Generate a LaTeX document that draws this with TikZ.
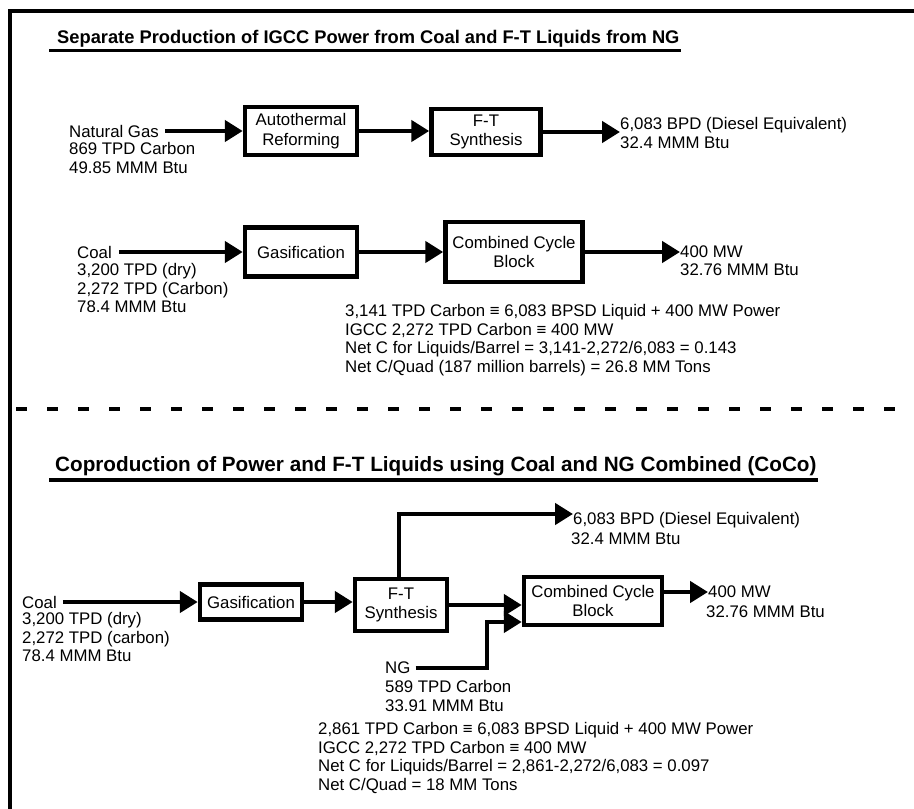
\documentclass[tikz,border=0pt]{standalone}
\usepackage{fontspec}
\setmainfont{Liberation Sans}
\usetikzlibrary{arrows.meta, positioning, calc}

\tikzset{
  blk/.style={draw, line width=4.5pt, align=center, inner sep=1pt,
    font=\fontsize{16.8}{19.5}\selectfont},
  flow/.style={line width=4.5pt, -{Triangle[length=18pt,width=21pt]}},
  lbl/.style={anchor=west, align=left, inner sep=0pt,
    font=\fontsize{16.8}{18.5}\selectfont},
  ttl/.style={anchor=base west, inner sep=0pt, font=\bfseries},
  uline/.style={line width=3.5pt}
}

\begin{document}
\begin{tikzpicture}[x=1pt,y=-1pt]
  \useasboundingbox (0,0) rectangle (914,809);

  % frame
  \draw[line width=4pt] (10,809) -- (10,11) -- (914,11);

  % --- separate production ---
  \node[ttl, font=\fontsize{18.3}{21}\bfseries\selectfont] (ttla) at (57,43)
    {Separate Production of IGCC Power from Coal and F-T Liquids from NG};
  \draw[uline] ([xshift=-8pt,yshift=-7.5pt]ttla.base west) -- ([xshift=1pt,yshift=-7.5pt]ttla.base east);

  \node[lbl] (nga) at (69,131) {Natural Gas};
  \node[lbl] (ngdata) at (69,158) {869 TPD Carbon\\49.85 MMM Btu};
  \node[blk, minimum width=112pt, minimum height=48pt] (atr) at (301,131) {Autothermal\\Reforming};
  \node[blk, minimum width=109pt, minimum height=46pt] (fta) at (486,132) {F-T\\Synthesis};
  \node[lbl] (liqa) at (620,125) {6,083 BPD (Diesel Equivalent)};
  \node[lbl] (liqadata) at (620,143) {32.4 MMM Btu};

  \draw[flow] ([xshift=6pt]nga.east) -- (atr.west);
  \draw[flow] (atr.east) -- (atr.east -| fta.west);
  \draw[flow] (fta.east) -- (fta.east -| liqa.west);

  \node[lbl] (coala) at (77,252) {Coal};
  \node[lbl] (coaladata) at (77,288) {3,200 TPD (dry)\\2,272 TPD (Carbon)\\78.4 MMM Btu};
  \node[blk, minimum width=112pt, minimum height=49pt] (gasa) at (301,252) {Gasification};
  \node[blk, minimum width=137pt, minimum height=60pt] (cca) at (514,252) {Combined Cycle\\Block};
  \node[lbl] (powa) at (680,252) {400 MW};
  \node[lbl] (powadata) at (680,270) {32.76 MMM Btu};

  \draw[flow] ([xshift=7pt]coala.east) -- (gasa.west);
  \draw[flow] (gasa.east) -- (gasa.east -| cca.west);
  \draw[flow] (cca.east) -- (cca.east -| powa.west);

  \node[lbl] (notea) at (345,340) {3,141 TPD Carbon ≡ 6,083 BPSD Liquid + 400 MW Power\\
    IGCC 2,272 TPD Carbon ≡ 400 MW\\
    Net C for Liquids/Barrel = 3,141-2,272/6,083 = 0.143\\
    Net C/Quad (187 million barrels) = 26.8 MM Tons};

  % separator
  \draw[line width=4pt, dash pattern=on 11pt off 20pt] (16,409) -- (914,409);

  % --- coproduction ---
  \node[ttl, font=\fontsize{20.7}{24}\bfseries\selectfont] (ttlb) at (55,471)
    {Coproduction of Power and F-T Liquids using Coal and NG Combined (CoCo)};
  \draw[uline] ([xshift=-6pt,yshift=-9pt]ttlb.base west) -- ([xshift=1pt,yshift=-9pt]ttlb.base east);

  \node[lbl] (coalb) at (22,602) {Coal};
  \node[lbl] (coalbdata) at (22,637) {3,200 TPD (dry)\\2,272 TPD (carbon)\\78.4 MMM Btu};
  \node[blk, minimum width=102pt, minimum height=35pt] (gasb) at (251,602) {Gasification};
  \node[blk, minimum width=92pt, minimum height=52pt] (ftb) at (401,605) {F-T\\Synthesis};
  \node[blk, minimum width=138pt, minimum height=48pt] (ccb) at (593,601) {Combined Cycle\\Block};
  \node[lbl] (liqb) at (573,520) {6,083 BPD (Diesel Equivalent)};
  \node[lbl] (liqbdata) at (571,539) {32.4 MMM Btu};
  \node[lbl] (powb) at (708,592) {400 MW};
  \node[lbl] (powbdata) at (706,612) {32.76 MMM Btu};
  \node[lbl] (ngb) at (385,668) {NG};
  \node[lbl] (ngbdata) at (385,696) {589 TPD Carbon\\33.91 MMM Btu};
  \coordinate (liqin) at ([yshift=6pt]liqb.west);
  \coordinate (ngbend) at (487,622);

  \draw[flow] ([xshift=6pt]coalb.east) -- (gasb.west);
  \draw[flow] (gasb.east) -- (gasb.east -| ftb.west);
  \draw[flow] ([xshift=-2pt]ftb.north) |- (liqin);
  \draw[flow] (ftb.east) -- (ftb.east -| ccb.west);
  \draw[flow] ([xshift=5pt]ngb.east) -| (ngbend) -- (ngbend -| ccb.west);
  \draw[flow] (ccb.east |- powb.west) -- (powb.west);

  \node[lbl] (noteb) at (318,758) {2,861 TPD Carbon ≡ 6,083 BPSD Liquid + 400 MW Power\\
    IGCC 2,272 TPD Carbon ≡ 400 MW\\
    Net C for Liquids/Barrel = 2,861-2,272/6,083 = 0.097\\
    Net C/Quad = 18 MM Tons};
\end{tikzpicture}
\end{document}
